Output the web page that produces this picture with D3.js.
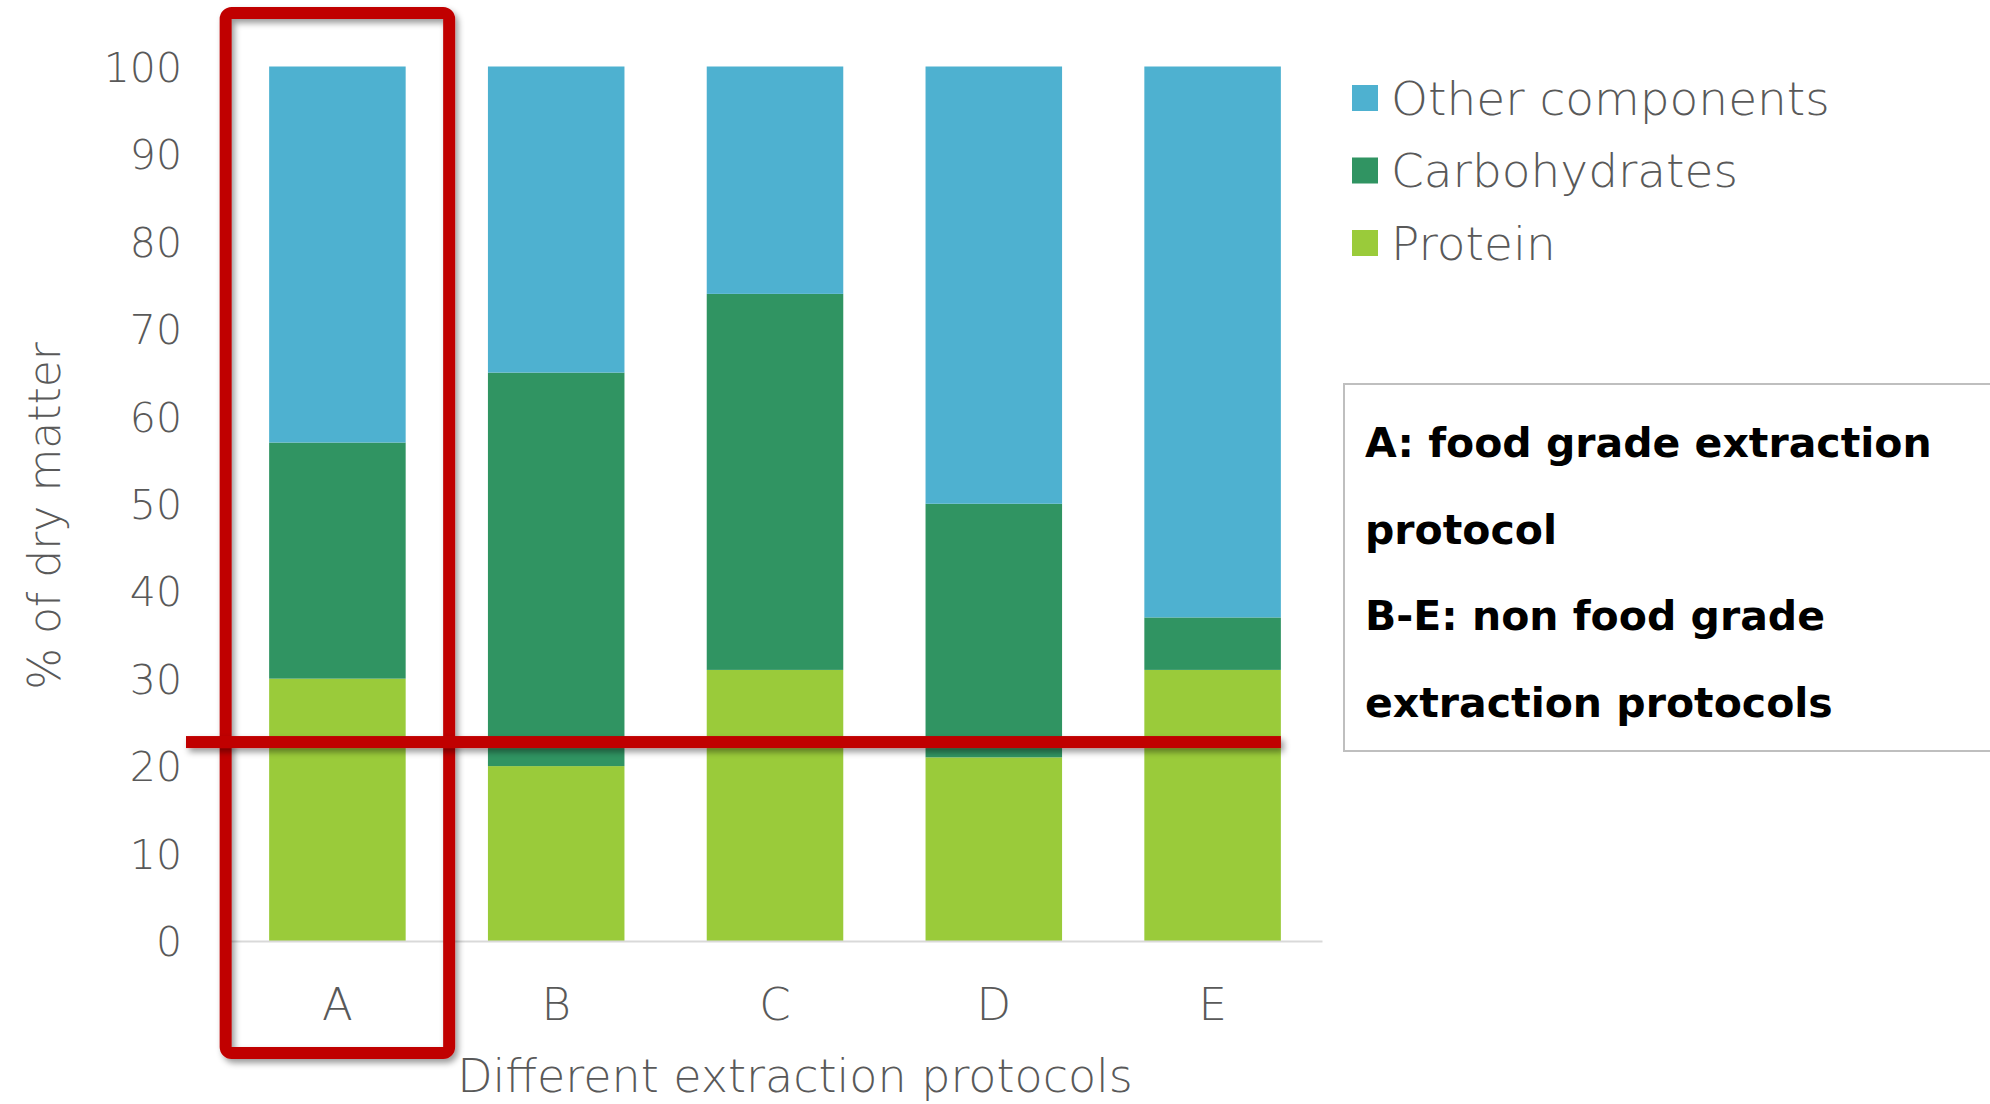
<!DOCTYPE html>
<html>
<head>
<meta charset="utf-8">
<script src="https://cdn.jsdelivr.net/npm/d3@7"></script>
<style>
  html, body { margin: 0; padding: 0; background: #ffffff; }
  svg { display: block; }
</style>
</head>
<body>
<svg id="chart" width="1990" height="1104"></svg>
<script>
// Composition of dry matter per extraction protocol (% of dry matter)
const protocols = ["A", "B", "C", "D", "E"];
const protein = [30, 20, 31, 21, 31];
const carbohydrates = [27, 45, 43, 29, 6];
const otherComponents = [43, 35, 26, 50, 63];

const seriesNames = ["Protein", "Carbohydrates", "Other components"];
const seriesColors = ["#9ACB3A", "#309462", "#4EB1D0"];
const yTicks = [0, 10, 20, 30, 40, 50, 60, 70, 80, 90, 100];

// Highlight level drawn across all bars and the protocol that is boxed
const highlightLevel = 22.75;
const highlightedProtocol = "A";

const noteLines = [
  "A: food grade extraction",
  "protocol",
  "B-E: non food grade",
  "extraction protocols"
];

const FONT = "'DejaVu Sans', 'Noto Sans', sans-serif";
const TEXT_GREY = "#595959";

const svg = d3.select("#chart");

const defs = svg.append("defs");
const shadow = defs.append("filter")
  .attr("id", "redShadow")
  .attr("filterUnits", "userSpaceOnUse")
  .attr("x", 0).attr("y", 0)
  .attr("width", 1990).attr("height", 1104);
shadow.append("feDropShadow")
  .attr("dx", 3).attr("dy", 4)
  .attr("stdDeviation", 3)
  .attr("flood-color", "#000")
  .attr("flood-opacity", 0.4);

const x = d3.scaleBand()
  .domain(protocols)
  .range([228, 1322])
  .paddingInner(0.376)
  .paddingOuter(0.188);

const y = d3.scaleLinear()
  .domain([0, 100])
  .range([941, 66.5]);

// Stack the three series
const rows = protocols.map((p, i) => ({
  protocol: p,
  "Protein": protein[i],
  "Carbohydrates": carbohydrates[i],
  "Other components": otherComponents[i]
}));
const stacked = d3.stack().keys(seriesNames)(rows);
const color = d3.scaleOrdinal().domain(seriesNames).range(seriesColors);

const barsG = svg.append("g");
barsG.selectAll("g.series")
  .data(stacked)
  .join("g")
  .attr("class", "series")
  .attr("fill", d => color(d.key))
  .selectAll("rect")
  .data(d => d)
  .join("rect")
  .attr("x", d => x(d.data.protocol))
  .attr("width", x.bandwidth())
  .attr("y", d => y(d[1]))
  .attr("height", d => y(d[0]) - y(d[1]));

// Y axis (labels only, no line)
const yAxis = svg.append("g")
  .attr("transform", "translate(182,0)")
  .call(d3.axisLeft(y).tickValues(yTicks).tickSize(0).tickPadding(0));
yAxis.select(".domain").remove();
yAxis.selectAll("text")
  .attr("font-family", FONT)
  .attr("font-weight", 300)
  .attr("font-size", 41)
  .attr("fill", TEXT_GREY)
  .attr("dy", "0.36em");

// X axis baseline and category labels
const xAxis = svg.append("g")
  .attr("transform", `translate(0,${y(0)})`)
  .call(d3.axisBottom(x).tickSize(0).tickPadding(0));
xAxis.select(".domain")
  .attr("stroke", "#D9D9D9")
  .attr("stroke-width", 2);
xAxis.selectAll("text")
  .attr("font-family", FONT)
  .attr("font-weight", 300)
  .attr("font-size", 45)
  .attr("fill", TEXT_GREY)
  .attr("dy", 0)
  .attr("y", 79);

// Axis titles
svg.append("text")
  .attr("x", 795).attr("y", 1092)
  .attr("text-anchor", "middle")
  .attr("font-family", FONT)
  .attr("font-weight", 300)
  .attr("font-size", 46)
  .attr("fill", TEXT_GREY)
  .text("Different extraction protocols");

svg.append("text")
  .attr("transform", "translate(60,516) rotate(-90)")
  .attr("text-anchor", "middle")
  .attr("font-family", FONT)
  .attr("font-weight", 300)
  .attr("font-size", 44)
  .attr("fill", TEXT_GREY)
  .text("% of dry matter");

// Legend (top series first)
const legendOrder = seriesNames.slice().reverse();
const legend = svg.append("g");
legendOrder.forEach((name, i) => {
  const cy = 98 + i * 72.5;
  legend.append("rect")
    .attr("x", 1352).attr("y", cy - 13)
    .attr("width", 26).attr("height", 26)
    .attr("fill", color(name));
  legend.append("text")
    .attr("x", 1391).attr("y", cy)
    .attr("dy", "0.36em")
    .attr("font-family", FONT)
    .attr("font-weight", 300)
    .attr("font-size", 47)
    .attr("fill", TEXT_GREY)
    .text(name);
});

// Note box
svg.append("rect")
  .attr("x", 1344).attr("y", 384)
  .attr("width", 700).attr("height", 367)
  .attr("fill", "#ffffff")
  .attr("stroke", "#BFBFBF")
  .attr("stroke-width", 2);
const note = svg.append("text")
  .attr("font-family", FONT)
  .attr("font-weight", 700)
  .attr("font-size", 41)
  .attr("fill", "#000000");
noteLines.forEach((line, i) => {
  note.append("tspan")
    .attr("x", 1365)
    .attr("y", 457 + i * 86.5)
    .text(line);
});

// Red highlight annotations
const boxCx = x(highlightedProtocol) + x.bandwidth() / 2;
svg.append("rect")
  .attr("x", boxCx - 111.75)
  .attr("y", 13)
  .attr("width", 223.5)
  .attr("height", 1040)
  .attr("rx", 6)
  .attr("fill", "none")
  .attr("stroke", "#C00000")
  .attr("stroke-width", 12)
  .attr("filter", "url(#redShadow)");

const lineX0 = 186;
const lineX1 = x(protocols[protocols.length - 1]) + x.bandwidth();
svg.append("rect")
  .attr("x", lineX0)
  .attr("width", lineX1 - lineX0)
  .attr("y", y(highlightLevel) - 6)
  .attr("height", 12)
  .attr("fill", "#C00000")
  .attr("filter", "url(#redShadow)");
</script>
</body>
</html>
